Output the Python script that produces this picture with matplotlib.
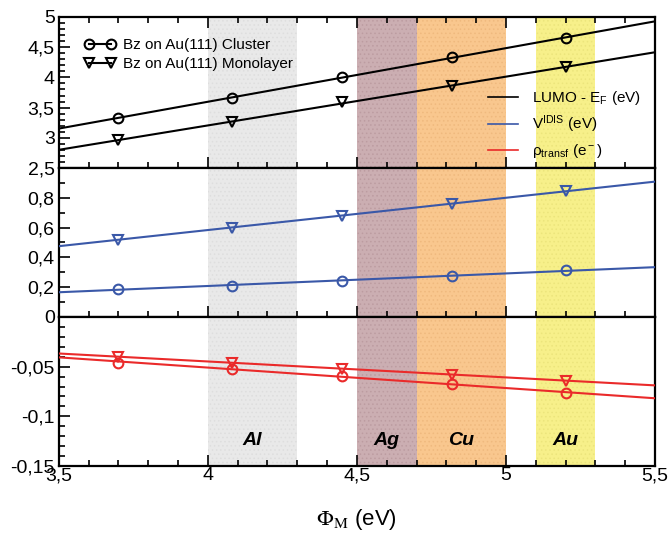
import numpy as np
import matplotlib.pyplot as plt
from matplotlib.ticker import MultipleLocator, FuncFormatter
from matplotlib.lines import Line2D

plt.rcParams['font.family'] = ['Liberation Sans', 'DejaVu Sans']
plt.rcParams['mathtext.fontset'] = 'custom'
plt.rcParams['mathtext.rm'] = 'Liberation Sans'
plt.rcParams['mathtext.it'] = 'Liberation Sans:italic'
plt.rcParams['mathtext.bf'] = 'Liberation Sans:bold'
plt.rcParams['axes.unicode_minus'] = False
plt.rcParams['hatch.linewidth'] = 0.6

# work functions of the model points (eV)
phi = [3.70, 4.08, 4.45, 4.82, 5.20]

# LUMO - E_F (eV)
lumo_cluster = [3.33, 3.66, 4.00, 4.34, 4.65]
lumo_mono = [2.96, 3.26, 3.59, 3.86, 4.17]
# V^IDIS (eV)
vidis_cluster = [0.19, 0.21, 0.24, 0.275, 0.315]
vidis_mono = [0.52, 0.60, 0.68, 0.76, 0.845]
# charge transfer (e-)
rho_cluster = [-0.046, -0.052, -0.059, -0.067, -0.077]
rho_mono = [-0.040, -0.046, -0.052, -0.058, -0.064]

# metal work-function ranges
metals = ['Al', 'Ag', 'Cu', 'Au']
metal_lo = [4.0, 4.5, 4.7, 5.1]
metal_hi = [4.3, 4.7, 5.0, 5.3]
metal_colors = ['#e9e9e9', '#cbaeb2', '#f9c78e', '#f7f08a']
metal_dots = ['#dedede', '#bc9ca1', '#efb97e', '#ece57c']

blue = '#3a58a8'
red = '#ea2a2a'

fig = plt.figure(figsize=(6.69, 5.36), dpi=100)
left, width = 0.088, 0.891
ax_top = fig.add_axes([left, 0.6866, width, 0.2817])
ax_mid = fig.add_axes([left, 0.4086, width, 0.2780])
ax_bot = fig.add_axes([left, 0.1306, width, 0.2780])
axes = [ax_top, ax_mid, ax_bot]

comma = FuncFormatter(lambda v, p: ('%g' % round(v, 4)).replace('.', ','))
xfit = np.array([3.5, 5.5])


def draw(ax, y_c, y_m, color):
    for y, mk in [(y_c, 'o'), (y_m, 'v')]:
        k, b = np.polyfit(phi, y, 1)
        ax.plot(xfit, k * xfit + b, color=color, lw=1.5, zorder=3)
        ax.plot(phi, y, ls='none', marker=mk, ms=7, mfc='none',
                mec=color, mew=1.5, zorder=4)


for i, ax in enumerate(axes):
    for lo, hi, c, d in zip(metal_lo, metal_hi, metal_colors, metal_dots):
        ax.axvspan(lo, hi, facecolor=c, edgecolor=d, hatch='....', lw=0, zorder=0)
    ax.set_xlim(3.5, 5.5)
    ax.xaxis.set_major_locator(MultipleLocator(0.5))
    ax.xaxis.set_minor_locator(MultipleLocator(0.1))
    ax.tick_params(which='both', direction='in', top=(i == 0), right=False,
                   labelsize=14, width=1.2)
    ax.tick_params(axis='x', pad=1)
    ax.tick_params(axis='y', pad=3)
    ax.tick_params(which='major', length=8)
    ax.tick_params(which='minor', length=4)
    ax.yaxis.set_major_formatter(comma)
    ax.xaxis.set_major_formatter(comma)
    for s in ax.spines.values():
        s.set_linewidth(1.6)

draw(ax_top, lumo_cluster, lumo_mono, 'black')
draw(ax_mid, vidis_cluster, vidis_mono, blue)
draw(ax_bot, rho_cluster, rho_mono, red)

ax_top.set_ylim(2.5, 5)
ax_top.yaxis.set_major_locator(MultipleLocator(0.5))
ax_top.yaxis.set_minor_locator(MultipleLocator(0.1))
ax_top.tick_params(labelbottom=False)

ax_mid.set_ylim(0, 1.0)
ax_mid.set_yticks([0.2, 0.4, 0.6, 0.8])
ax_mid.yaxis.set_minor_locator(MultipleLocator(0.1))
ax_mid.tick_params(labelbottom=False)

ax_bot.set_ylim(-0.15, 0)
ax_bot.set_yticks([-0.15, -0.1, -0.05, 0])
ax_bot.yaxis.set_minor_locator(MultipleLocator(0.01))

for name, lo, hi in zip(metals, metal_lo, metal_hi):
    ax_bot.text((lo + hi) / 2, -0.124, name, ha='center', va='center',
                fontsize=14, fontweight='bold', fontstyle='italic', zorder=5)

ax_bot.set_xlabel(r'$\Phi_{\mathrm{M}}$ (eV)', fontsize=16, labelpad=16,
                  math_fontfamily='stix')

h1 = [Line2D([0], [0], color='black', lw=1.5, marker='o', mfc='none', ms=7, mew=1.5),
      Line2D([0], [0], color='black', lw=1.5, marker='v', mfc='none', ms=7, mew=1.5)]
leg1 = ax_top.legend(h1, ['Bz on Au(111) Cluster', 'Bz on Au(111) Monolayer'],
                     loc='upper left', bbox_to_anchor=(0.02, 0.95), frameon=False,
                     fontsize=11, numpoints=2, handlelength=2.0, handletextpad=0.5,
                     labelspacing=0.3)
ax_top.add_artist(leg1)

h2 = [Line2D([0], [0], color=c, lw=1.2) for c in ['black', blue, red]]
ax_top.legend(h2, [r'LUMO - E$_{\rm F}$ (eV)', r'V$^{\rm IDIS}$ (eV)',
                   r'ρ$_{\rm transf}$ (e$^{\rm -}$)'],
              loc='lower right', bbox_to_anchor=(1.0, -0.04), frameon=False,
              fontsize=11, handlelength=2.0, handletextpad=0.9, labelspacing=0.45)

fig.savefig('out.png', dpi=100)
